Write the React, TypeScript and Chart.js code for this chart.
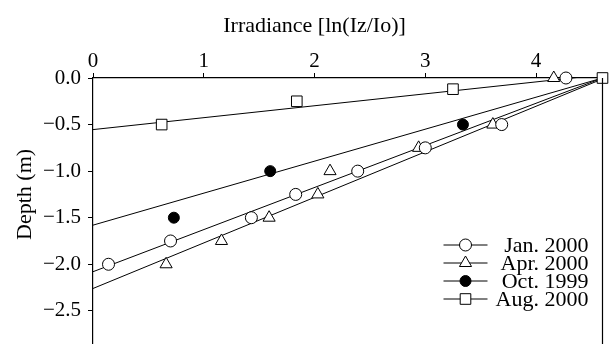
import React, { useEffect, useRef } from 'react';
import { Chart, registerables } from 'chart.js';

Chart.register(...registerables);

// ---- data ----
const janX = [0.14, 0.7, 1.43, 1.83, 2.39, 3.0, 3.69, 4.27];
const janY = [-2.0, -1.75, -1.5, -1.25, -1.0, -0.75, -0.5, 0.0];
const aprX = [0.66, 1.16, 1.59, 2.03, 2.14, 2.94, 3.61, 4.16];
const aprY = [-2.0, -1.75, -1.5, -1.25, -1.0, -0.75, -0.5, 0.0];
const octX = [0.73, 1.6, 3.34];
const octY = [-1.5, -1.0, -0.5];
const augX = [0.62, 1.84, 3.25, 4.6];
const augY = [-0.5, -0.25, -0.12, 0.0];

// regression lines (end points)
const fitX = [0, 4.6];
const janFitY = [-2.08, 0.0];
const aprFitY = [-2.26, -0.01];
const octFitY = [-1.58, 0.0];
const augFitY = [-0.554, 0.035];

const seriesLabels = ['Jan. 2000', 'Apr. 2000', 'Oct. 1999', 'Aug. 2000'];
const xTitle = 'Irradiance [ln(Iz/Io)]';
const yTitle = 'Depth (m)';
const xMin = 0;
const xMax = 4.6;
const yMin = -3.0;
const yMax = 0.0;

const FONT = '"Liberation Serif", "Times New Roman", serif';

const pts = (xs: number[], ys: number[]) => xs.map((x, i) => ({ x, y: ys[i] }));

function drawMarker(ctx: CanvasRenderingContext2D, style: string, x: number, y: number, r: number, fill: string) {
  ctx.save();
  ctx.beginPath();
  if (style === 'circle') {
    ctx.arc(x, y, r, 0, Math.PI * 2);
  } else if (style === 'triangle') {
    let a = 0;
    ctx.moveTo(x + Math.sin(a) * r, y - Math.cos(a) * r);
    a += (2 * Math.PI) / 3;
    ctx.lineTo(x + Math.sin(a) * r, y - Math.cos(a) * r);
    a += (2 * Math.PI) / 3;
    ctx.lineTo(x + Math.sin(a) * r, y - Math.cos(a) * r);
    ctx.closePath();
  } else {
    const s = r * Math.SQRT1_2;
    ctx.rect(x - s, y - s, 2 * s, 2 * s);
  }
  ctx.fillStyle = fill;
  ctx.fill();
  ctx.strokeStyle = '#000';
  ctx.lineWidth = 1;
  ctx.stroke();
  ctx.restore();
}

const extrasPlugin = {
  id: 'extras',
  afterDraw(chart: any) {
    const ctx: CanvasRenderingContext2D = chart.ctx;
    const area = chart.chartArea;
    const xs = chart.scales.x;
    const ys = chart.scales.y;
    ctx.save();
    // right frame line
    ctx.strokeStyle = '#000';
    ctx.lineWidth = 1.2;
    ctx.beginPath();
    ctx.moveTo(area.right, area.top);
    ctx.lineTo(area.right, area.bottom);
    ctx.stroke();

    // titles
    ctx.fillStyle = '#000';
    ctx.font = `22px ${FONT}`;
    ctx.textAlign = 'center';
    ctx.textBaseline = 'middle';
    ctx.fillText(xTitle, xs.getPixelForValue(2), 26);
    ctx.save();
    ctx.translate(25, ys.getPixelForValue(-1.25));
    ctx.rotate(-Math.PI / 2);
    ctx.fillText(yTitle, 0, 0);
    ctx.restore();

    // legend
    const entries = chart.data.datasets.filter((d: any) => d.legendEntry);
    const textRight = area.right - 14;
    const segLeft = area.right - 159;
    const segRight = area.right - 115;
    let rowY = 245;
    ctx.font = `22px ${FONT}`;
    ctx.textAlign = 'right';
    ctx.textBaseline = 'middle';
    entries.forEach((d: any) => {
      ctx.strokeStyle = '#000';
      ctx.lineWidth = 1;
      ctx.beginPath();
      ctx.moveTo(segLeft, rowY);
      ctx.lineTo(segRight, rowY);
      ctx.stroke();
      drawMarker(ctx, d.pointStyle, (segLeft + segRight) / 2, rowY, d.pointRadius, d.backgroundColor);
      ctx.fillStyle = '#000';
      ctx.fillText(d.label, textRight, rowY + 1);
      rowY += 18;
    });
    ctx.restore();
  },
};

export default function App() {
  const ref = useRef<HTMLCanvasElement | null>(null);

  useEffect(() => {
    if (!ref.current) return;
    const lineDs = (ys: number[]) => ({
      type: 'line' as const,
      data: pts(fitX, ys),
      borderColor: '#000',
      borderWidth: 1,
      pointRadius: 0,
      fill: false,
      order: 5,
      showLine: true,
    });
    const pointDs = (label: string, xs: number[], ys: number[], style: string, r: number, fill: string) => ({
      type: 'scatter' as const,
      label,
      legendEntry: true,
      data: pts(xs, ys),
      pointStyle: style,
      pointRadius: r,
      backgroundColor: fill,
      pointBackgroundColor: fill,
      borderColor: '#000',
      pointBorderColor: '#000',
      pointBorderWidth: 1,
      borderWidth: 1,
      showLine: false,
      clip: false,
      order: 1,
    });

    const chart = new Chart(ref.current, {
      type: 'scatter',
      data: {
        datasets: [
          lineDs(janFitY),
          lineDs(aprFitY),
          lineDs(octFitY),
          lineDs(augFitY),
          pointDs(seriesLabels[0], janX, janY, 'circle', 6, '#fff'),
          pointDs(seriesLabels[1], aprX, aprY, 'triangle', 7, '#fff'),
          pointDs(seriesLabels[2], octX, octY, 'circle', 5.5, '#000'),
          pointDs(seriesLabels[3], augX, augY, 'rect', 7.5, '#fff'),
        ] as any,
      },
      options: {
        animation: false,
        responsive: false,
        events: [],
        layout: { padding: { left: 0, right: 3, top: 0, bottom: 2 } },
        plugins: {
          legend: { display: false },
          title: { display: false },
          tooltip: { enabled: false },
        },
        scales: {
          x: {
            type: 'linear',
            position: 'top',
            min: xMin,
            max: xMax,
            afterFit: (s: any) => { s.height = 78; },
            ticks: {
              stepSize: 1,
              includeBounds: false,
              autoSkip: false,
              maxRotation: 0,
              color: '#000',
              padding: -1,
              font: { family: FONT, size: 21 },
              callback: (v: any) => String(v),
            },
            grid: { drawOnChartArea: false, drawTicks: true, tickLength: 5, color: '#000', lineWidth: 1 },
            border: { display: true, color: '#000', width: 1.2 },
          },
          y: {
            type: 'linear',
            position: 'left',
            min: yMin,
            max: yMax,
            afterFit: (s: any) => { s.width = 93; },
            ticks: {
              stepSize: 0.5,
              autoSkip: false,
              color: '#000',
              padding: 7,
              font: { family: FONT, size: 21 },
              callback: (v: any) => {
                const n = Number(v);
                if (Math.abs(n) < 1e-9) return '0.0';
                return (n < 0 ? '\u2212' : '') + Math.abs(n).toFixed(1);
              },
            },
            grid: { drawOnChartArea: false, drawTicks: true, tickLength: 5, color: '#000', lineWidth: 1 },
            border: { display: true, color: '#000', width: 1.2 },
          },
        },
      },
      plugins: [extrasPlugin],
    });
    return () => chart.destroy();
  }, []);

  return (
    <div
      style={{
        position: 'fixed',
        left: 0,
        top: 0,
        width: 611,
        height: 344,
        overflow: 'hidden',
        background: '#fff',
      }}
    >
      <canvas ref={ref} width={611} height={377} style={{ width: 611, height: 377, display: 'block' }} />
    </div>
  );
}
